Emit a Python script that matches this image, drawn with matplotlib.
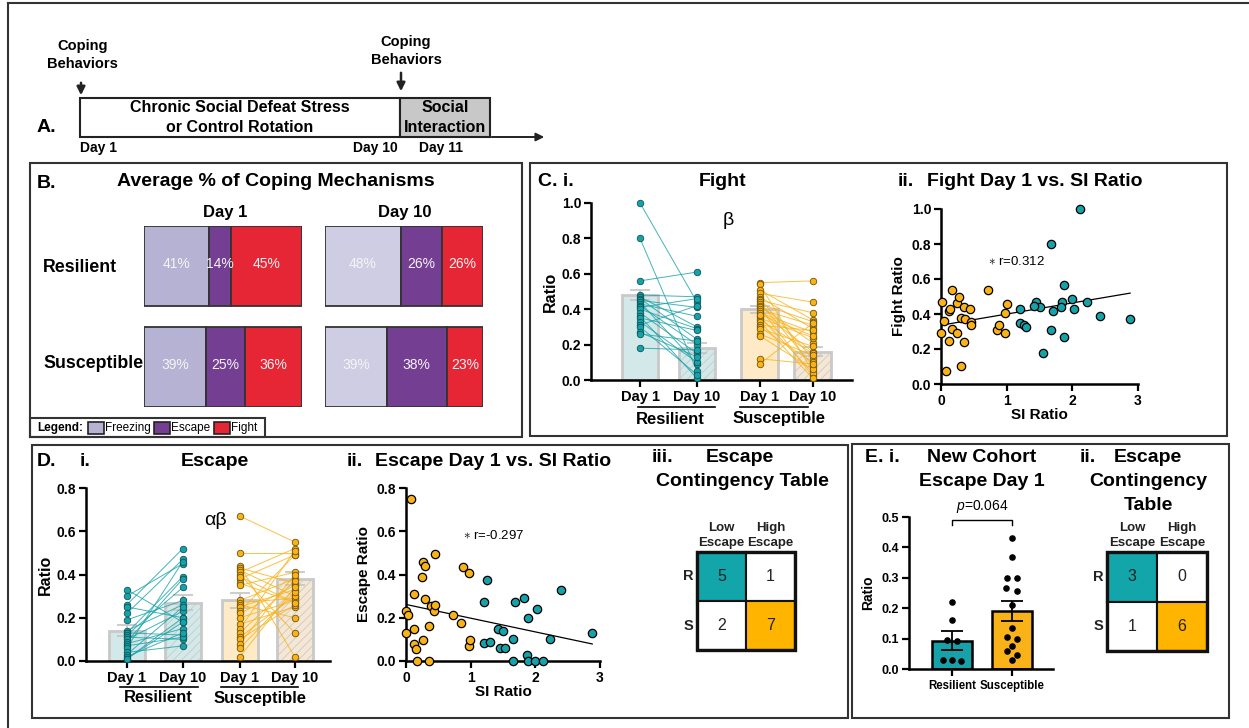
import numpy as np
import matplotlib
matplotlib.use('Agg')
import matplotlib.pyplot as plt
from matplotlib.patches import Rectangle

plt.rcParams['font.family'] = ['Liberation Sans', 'DejaVu Sans']
plt.rcParams['mathtext.fontset'] = 'custom'
plt.rcParams['mathtext.it'] = 'Liberation Sans:italic'
plt.rcParams['mathtext.rm'] = 'Liberation Sans'
plt.rcParams['hatch.linewidth'] = 0.6

# ------------------------------------------------------------
# data
# ------------------------------------------------------------
coping_labels = ['Freezing', 'Escape', 'Fight']
groups = ['Resilient', 'Susceptible']
pct_day1 = [[41, 14, 45], [39, 25, 36]]
pct_day10 = [[48, 26, 26], [39, 38, 23]]

day_labels = ['Day 1', 'Day 10', 'Day 1', 'Day 10']

fight_means = [0.48, 0.18, 0.40, 0.16]
fight_sems = [0.03, 0.03, 0.02, 0.025]
fight_res_d1 = [1.00, 0.80, 0.56, 0.48, 0.47, 0.46, 0.45, 0.44, 0.43, 0.42, 0.41,
                0.40, 0.38, 0.36, 0.35, 0.33, 0.31, 0.30, 0.27, 0.26, 0.18]
fight_res_d10 = [0.44, 0.05, 0.61, 0.47, 0.30, 0.23, 0.41, 0.09, 0.36, 0.20, 0.46,
                 0.29, 0.15, 0.01, 0.28, 0.10, 0.42, 0.03, 0.13, 0.22, 0.17]
fight_sus_d1 = [0.55, 0.54, 0.51, 0.49, 0.47, 0.46, 0.45, 0.44, 0.43, 0.42, 0.41, 0.40, 0.39,
                0.38, 0.36, 0.35, 0.34, 0.33, 0.31, 0.30, 0.29, 0.26, 0.25, 0.12, 0.09, 0.37]
fight_sus_d10 = [0.56, 0.05, 0.34, 0.44, 0.29, 0.12, 0.38, 0.08, 0.33, 0.21, 0.02, 0.31, 0.16,
                 0.27, 0.04, 0.24, 0.15, 0.01, 0.28, 0.10, 0.19, 0.14, 0.06, 0.09, 0.32, 0.25]

escape_means = [0.14, 0.27, 0.28, 0.38]
escape_sems = [0.025, 0.035, 0.035, 0.03]
escape_res_d1 = [0.33, 0.30, 0.26, 0.25, 0.22, 0.19, 0.14, 0.13, 0.13, 0.12, 0.11,
                 0.10, 0.09, 0.08, 0.07, 0.06, 0.04, 0.03, 0.02, 0.01, 0.01]
escape_res_d10 = [0.18, 0.45, 0.52, 0.20, 0.47, 0.28, 0.26, 0.39, 0.12, 0.34, 0.10,
                  0.23, 0.38, 0.15, 0.11, 0.46, 0.07, 0.25, 0.13, 0.20, 0.18]
escape_sus_d1 = [0.67, 0.50, 0.44, 0.43, 0.42, 0.41, 0.40, 0.38, 0.36, 0.35, 0.28, 0.27, 0.26,
                 0.25, 0.23, 0.22, 0.20, 0.17, 0.15, 0.13, 0.11, 0.10, 0.08, 0.06, 0.02, 0.39]
escape_sus_d10 = [0.55, 0.50, 0.02, 0.36, 0.30, 0.52, 0.13, 0.49, 0.27, 0.41, 0.38, 0.29, 0.20,
                  0.33, 0.49, 0.35, 0.28, 0.25, 0.51, 0.37, 0.30, 0.26, 0.40, 0.32, 0.34, 0.27]

# SI ratio scatter (Day 1)
si_res = [2.12, 1.67, 1.88, 1.45, 1.50, 1.41, 1.20, 1.85, 1.82, 2.00, 2.02,
          2.22, 1.70, 2.42, 2.88, 1.20, 1.26, 1.30, 1.67, 1.88, 1.55]
fight_si_res = [1.00, 0.80, 0.565, 0.47, 0.44, 0.445, 0.43, 0.47, 0.44, 0.485, 0.43,
                0.47, 0.42, 0.39, 0.37, 0.35, 0.335, 0.325, 0.31, 0.27, 0.18]
si_sus = [0.02, 0.05, 0.00, 0.07, 0.12, 0.13, 0.12, 0.17, 0.17, 0.25, 0.27, 0.25, 0.30,
          0.35, 0.37, 0.35, 0.30, 0.44, 0.45, 0.45, 0.72, 0.85, 0.88, 0.98, 0.98, 1.00]
fight_si_sus = [0.47, 0.36, 0.29, 0.075, 0.42, 0.43, 0.245, 0.535, 0.315, 0.465, 0.50, 0.29, 0.38,
                0.44, 0.37, 0.24, 0.105, 0.43, 0.355, 0.335, 0.54, 0.31, 0.335, 0.405, 0.29, 0.46]

esc_si_res_x = [1.25, 1.20, 1.68, 1.82, 1.88, 2.02, 2.40, 2.88, 2.22, 1.42, 1.50,
                1.20, 1.30, 1.45, 1.53, 1.66, 1.87, 1.65, 1.88, 2.00, 2.12]
esc_si_res_y = [0.375, 0.275, 0.275, 0.29, 0.20, 0.24, 0.33, 0.13, 0.10, 0.15, 0.14,
                0.085, 0.088, 0.06, 0.06, 0.10, 0.03, 0.0, 0.0, 0.0, 0.0]
esc_si_sus_x = [0.07, 0.00, 0.03, 0.00, 0.12, 0.12, 0.12, 0.15, 0.17, 0.25, 0.27, 0.30, 0.30,
                0.27, 0.35, 0.35, 0.38, 0.43, 0.45, 0.45, 0.72, 0.85, 0.88, 0.97, 0.98, 0.99]
esc_si_sus_y = [0.75, 0.23, 0.215, 0.13, 0.31, 0.15, 0.08, 0.055, 0.0, 0.39, 0.46, 0.44, 0.285,
                0.095, 0.16, 0.0, 0.255, 0.23, 0.26, 0.495, 0.215, 0.175, 0.435, 0.405, 0.07, 0.095]

# contingency tables: rows R, S ; cols Low, High escape
table_d = [[5, 1], [2, 7]]
table_e = [[3, 0], [1, 6]]

# new cohort escape day 1
new_groups = ['Resilient', 'Susceptible']
new_res = [0.222, 0.16, 0.097, 0.092, 0.03, 0.028, 0.027]
new_sus = [0.43, 0.37, 0.30, 0.30, 0.265, 0.255, 0.21, 0.135, 0.105, 0.10, 0.075, 0.06, 0.047, 0.03]
new_sems = [0.03, 0.033]
# horizontal spread of overlapping dots (GraphPad style)
new_res_dx = [0, 0, -0.08, 0.08, -0.15, 0, 0.15]
new_sus_dx = [0, 0, -0.08, 0.08, -0.1, 0.08, 0, 0, -0.08, 0.08, 0, -0.08, 0.08, 0]

# ------------------------------------------------------------
# colours
# ------------------------------------------------------------
TEAL = '#16a2a8'
ORANGE = '#f9b218'
TEAL_T = '#12a5aa'
ORANGE_T = '#ffb400'
FREEZE = ['#b6b2d4', '#cfcde3']
ESCAPE = '#743f93'
FIGHT = '#e62535'

W, H = 1249, 728
fig = plt.figure(figsize=(W / 100, H / 100), dpi=100)
bg = fig.add_axes([0, 0, 1, 1], zorder=-5)
bg.set_xlim(0, W)
bg.set_ylim(H, 0)
bg.axis('off')


def px_axes(x0, y0, x1, y1):
    return fig.add_axes([x0 / W, 1 - y1 / H, (x1 - x0) / W, (y1 - y0) / H])


def box(x0, y0, x1, y1, lw=1.5, fc='none', ec='#333333'):
    bg.add_patch(Rectangle((x0, y0), x1 - x0, y1 - y0, facecolor=fc, edgecolor=ec, lw=lw))


def txt(x, y, s, size=12, weight='bold', ha='center', **kw):
    bg.text(x, y, s, fontsize=size, fontweight=weight, ha=ha, va='center', **kw)


# outer frame (only top / left visible)
bg.plot([8, W], [3, 3], color='#333333', lw=1.5)
bg.plot([8, 8], [3, H], color='#333333', lw=1.5)

# ------------------------------------------------------------
# A. timeline
# ------------------------------------------------------------
box(80, 98, 400, 137, lw=1.5, fc='white', ec='#222222')
box(400, 98, 490, 137, lw=1.5, fc='#c8c8c8', ec='#222222')
bg.annotate('', xy=(547, 137), xytext=(489, 137),
            arrowprops=dict(arrowstyle='-|>', color='#222222', lw=1.4, mutation_scale=12))
txt(37, 127, 'A.', 14, ha='left')
txt(240, 108, 'Chronic Social Defeat Stress', 11.5)
txt(240, 128, 'or Control Rotation', 11.5)
txt(445, 108, 'Social', 11.5)
txt(445, 128, 'Interaction', 11.5)
txt(80, 148, 'Day 1', 10, ha='left')
txt(398, 148, 'Day 10', 10, ha='right')
txt(441, 148, 'Day 11', 10)
txt(83, 46, 'Coping', 10.5)
txt(82, 64, 'Behaviors', 10.5)
txt(406, 42, 'Coping', 10.5)
txt(406, 60, 'Behaviors', 10.5)
bg.annotate('', xy=(81, 98), xytext=(81, 80),
            arrowprops=dict(arrowstyle='-|>', color='#222222', lw=1.8, mutation_scale=12))
bg.annotate('', xy=(401, 94), xytext=(401, 70),
            arrowprops=dict(arrowstyle='-|>', color='#222222', lw=1.8, mutation_scale=12))

# ------------------------------------------------------------
# panel frames
# ------------------------------------------------------------
box(30, 163, 522, 437)
box(530, 163, 1227, 436)
box(32, 445, 848, 718)
box(852, 444, 1229, 718)

# ------------------------------------------------------------
# B. stacked coping bars
# ------------------------------------------------------------
txt(37, 183, 'B.', 14, ha='left')
txt(276, 182, 'Average % of Coping Mechanisms', 14)
txt(225, 212, 'Day 1', 12)
txt(405, 212, 'Day 10', 12)
txt(43, 267, 'Resilient', 12.8, ha='left')
txt(43, 363, 'Susceptible', 12.8, ha='left')

h = 80 / 101
for k, (pcts, x0, x1) in enumerate([(pct_day1, 144, 302), (pct_day10, 325, 483)]):
    ax = px_axes(x0, 226, x1, 407)
    for row, vals in enumerate(pcts):
        left = 0
        cols = [FREEZE[k], ESCAPE, FIGHT]
        for v, c in zip(vals, cols):
            ax.barh(row, v, left=left, height=h, color=c, edgecolor='#333333', lw=1.3)
            ax.text(left + v / 2, row - 0.02, f'{v}%', color='#f4f4f4', ha='center', va='center',
                    fontsize=10)
            left += v
    ax.set_xlim(0, 100)
    ax.set_ylim(1 + h / 2, -h / 2)
    ax.axis('off')

# legend strip
box(30, 418, 265, 437, lw=1.5)
txt(37, 428, 'Legend:', 8.5, ha='left')
for (x0, c, lab) in [(88, FREEZE[0], 'Freezing'), (154, ESCAPE, 'Escape'), (214, FIGHT, 'Fight')]:
    bg.add_patch(Rectangle((x0, 422), 16, 12, facecolor=c, edgecolor='#222222', lw=1.2))
    txt(x0 + 17, 428, lab, 8.5, weight='normal', ha='left')


# ------------------------------------------------------------
# helpers for C / D plots
# ------------------------------------------------------------
def style_axes(ax, yticks, fmt='{:.1f}', size=10):
    for s in ['top', 'right']:
        ax.spines[s].set_visible(False)
    for s in ['left', 'bottom']:
        ax.spines[s].set_linewidth(1.8)
    ax.set_yticks(yticks, [fmt.format(t) for t in yticks], fontweight='bold', fontsize=size)
    ax.tick_params(width=1.6, length=5, pad=2)


def paired_panel(ax, pos, means, sems, r1, r10, s1, s10, ymax, yticks):
    fills = ['#d3e9e9', '#d3e9e9', '#feeac7', '#f5e7d3']
    hatches = [None, '////', None, '////']
    for i in range(4):
        ax.bar(pos[i], means[i], width=0.64, color=fills[i], edgecolor='#c9c9c9', lw=2,
               hatch=hatches[i], zorder=1)
        ax.errorbar(pos[i], means[i], yerr=sems[i], color='#c4c4c4', capsize=7, lw=1.2,
                    capthick=1.2, zorder=1.5)
    for a, b, xa, xb, col, ec in [(r1, r10, pos[0], pos[1], TEAL, '#0d5558'),
                                  (s1, s10, pos[2], pos[3], ORANGE, '#6e5204')]:
        for ya, yb in zip(a, b):
            ax.plot([xa, xb], [ya, yb], color=col, lw=0.7, alpha=0.8, zorder=2)
        ax.scatter([xa] * len(a), a, s=22, color=col, edgecolor=ec, lw=0.6, zorder=3, clip_on=False)
        ax.scatter([xb] * len(b), b, s=22, color=col, edgecolor=ec, lw=0.6, zorder=3, clip_on=False)
    ax.set_ylim(0, ymax)
    style_axes(ax, yticks)
    ax.set_xticks(pos, day_labels, fontweight='bold', fontsize=10.5)
    ax.set_ylabel('Ratio', fontweight='bold', fontsize=11.5, labelpad=3)


def group_labels(spans, label_y, line_y):
    for (x0, x1, xc, lab) in spans:
        bg.plot([x0, x1], [line_y, line_y], color='black', lw=1.2)
        txt(xc, label_y, lab, 12)


def scatter_panel(ax, xr, yr, xs, ys, ymax, yticks, ylabel, rtext, rxy):
    ax.scatter(xs, ys, s=36, color=ORANGE, edgecolor='black', lw=0.9, zorder=3, clip_on=False)
    ax.scatter(xr, yr, s=36, color=TEAL, edgecolor='black', lw=0.9, zorder=3, clip_on=False)
    allx = np.r_[xr, xs]
    ally = np.r_[yr, ys]
    m, b = np.polyfit(allx, ally, 1)
    xx = np.array([0, allx.max()])
    ax.plot(xx, m * xx + b, color='black', lw=0.9, zorder=2)
    ax.set_xlim(0, 3)
    ax.set_ylim(0, ymax)
    style_axes(ax, yticks)
    ax.set_xticks([0, 1, 2, 3], ['0', '1', '2', '3'], fontweight='bold', fontsize=10)
    ax.set_xlabel('SI Ratio', fontweight='bold', fontsize=11, labelpad=0)
    ax.set_ylabel(ylabel, fontweight='bold', fontsize=11, labelpad=4)
    ax.text(rxy[0], rxy[1], rtext, fontsize=9.5, ha='left', va='center')


# ------------------------------------------------------------
# C. Fight
# ------------------------------------------------------------
txt(538, 182, 'C. i.', 14, ha='left')
txt(723, 181, 'Fight', 14)
ax_ci = px_axes(591, 203, 852, 380)
pos_c = [0, 1, 2.1, 3.03]
paired_panel(ax_ci, pos_c, fight_means, fight_sems, fight_res_d1, fight_res_d10,
             fight_sus_d1, fight_sus_d10, 1.0, [0, 0.2, 0.4, 0.6, 0.8, 1.0])
ax_ci.set_xlim(-0.86, 3.72)
ax_ci.text(1.55, 0.9, 'β', fontsize=14, ha='center', va='center')
group_labels([(638, 715, 670, 'Resilient'), (740, 808, 779, 'Susceptible')], 419, 407)

txt(898, 181, 'ii.', 14, ha='left')
txt(1035, 181, 'Fight Day 1 vs. SI Ratio', 14)
ax_cii = px_axes(941, 209, 1138, 384)
scatter_panel(ax_cii, si_res, fight_si_res, si_sus, fight_si_sus, 1.0,
              [0, 0.2, 0.4, 0.6, 0.8, 1.0], 'Fight Ratio', '$\\ast$ r=0.312', (0.72, 0.7))

# ------------------------------------------------------------
# D. Escape
# ------------------------------------------------------------
txt(37, 462, 'D.', 14, ha='left')
txt(80, 462, 'i.', 14, ha='left')
txt(215, 462, 'Escape', 14)
ax_di = px_axes(86, 488, 330, 661)
pos_d = [0, 1, 2.02, 3.0]
paired_panel(ax_di, pos_d, escape_means, escape_sems, escape_res_d1, escape_res_d10,
             escape_sus_d1, escape_sus_d10, 0.8, [0, 0.2, 0.4, 0.6, 0.8])
ax_di.set_xlim(-0.73, 3.63)
ax_di.text(1.58, 0.65, 'αβ', fontsize=14, ha='center', va='center')
group_labels([(120, 198, 158, 'Resilient'), (221, 298, 260, 'Susceptible')], 698, 687)

txt(347, 462, 'ii.', 14, ha='left')
txt(493, 462, 'Escape Day 1 vs. SI Ratio', 14)
ax_dii = px_axes(406, 488, 600, 661)
scatter_panel(ax_dii, esc_si_res_x, esc_si_res_y, esc_si_sus_x, esc_si_sus_y, 0.8,
              [0, 0.2, 0.4, 0.6, 0.8], 'Escape Ratio', '$\\ast$ r=-0.297', (0.88, 0.58))


# ------------------------------------------------------------
# contingency tables
# ------------------------------------------------------------
def contingency(x0, y0, x1, y1, counts, rows_x):
    cw = (x1 - x0) / 2
    ch = (y1 - y0) / 2
    fills = [[TEAL_T, 'white'], ['white', ORANGE_T]]
    for i in range(2):
        for j in range(2):
            bg.add_patch(Rectangle((x0 + j * cw, y0 + i * ch), cw, ch, facecolor=fills[i][j],
                                   edgecolor='#111111', lw=1.5))
            txt(x0 + (j + 0.5) * cw, y0 + (i + 0.5) * ch, str(counts[i][j]), 11.5,
                weight='normal', color='#222222')
    bg.add_patch(Rectangle((x0, y0), x1 - x0, y1 - y0, fill=False, edgecolor='#111111', lw=2.4))
    for j, lab in enumerate(['Low', 'High']):
        txt(x0 + (j + 0.5) * cw, y0 - 24, lab, 9.5, color='#222222')
        txt(x0 + (j + 0.5) * cw, y0 - 9, 'Escape', 9.5, color='#222222')
    for i, lab in enumerate(['R', 'S']):
        txt(rows_x, y0 + (i + 0.5) * ch, lab, 10.5, color='#222222')


txt(652, 458, 'iii.', 14, ha='left')
txt(740, 458, 'Escape', 14)
txt(742, 482, 'Contingency Table', 14)
contingency(697, 552, 795, 650, table_d, 688)

# ------------------------------------------------------------
# E. new cohort
# ------------------------------------------------------------
txt(865, 458, 'E. i.', 14, ha='left')
txt(982, 458, 'New Cohort', 14)
txt(982, 482, 'Escape Day 1', 14)
ax_e = px_axes(909, 517, 1053, 669)
new_means = [np.mean(new_res), np.mean(new_sus)]
for i, (vals, dx, c) in enumerate([(new_res, new_res_dx, TEAL), (new_sus, new_sus_dx, ORANGE)]):
    ax_e.bar(i, new_means[i], width=0.67, color=c, edgecolor='black', lw=1.8, zorder=1)
    ax_e.errorbar(i, new_means[i], yerr=new_sems[i], color='black', capsize=8, lw=1.3,
                  capthick=1.3, zorder=2)
    ax_e.scatter(i + np.array(dx), vals, s=14, color='black', zorder=3, clip_on=False)
ax_e.plot([0, 0, 1, 1], [0.475, 0.49, 0.49, 0.475], color='black', lw=1)
ax_e.text(0.5, 0.505, '$p$=0.064', fontsize=10, ha='center', va='bottom')
ax_e.set_xlim(-0.72, 1.68)
ax_e.set_ylim(0, 0.5)
style_axes(ax_e, [0, 0.1, 0.2, 0.3, 0.4, 0.5], size=9)
ax_e.set_xticks([0, 1], new_groups, fontweight='bold', fontsize=8.3)
ax_e.tick_params(axis='x', length=5, pad=3)
ax_e.set_ylabel('Ratio', fontweight='bold', fontsize=10, labelpad=5)

txt(1080, 458, 'ii.', 14, ha='left')
txt(1148, 458, 'Escape', 14)
txt(1148, 482, 'Contingency', 14)
txt(1148, 505, 'Table', 14)
contingency(1107, 552, 1207, 651, table_e, 1098)

fig.savefig('out.png', dpi=100)
